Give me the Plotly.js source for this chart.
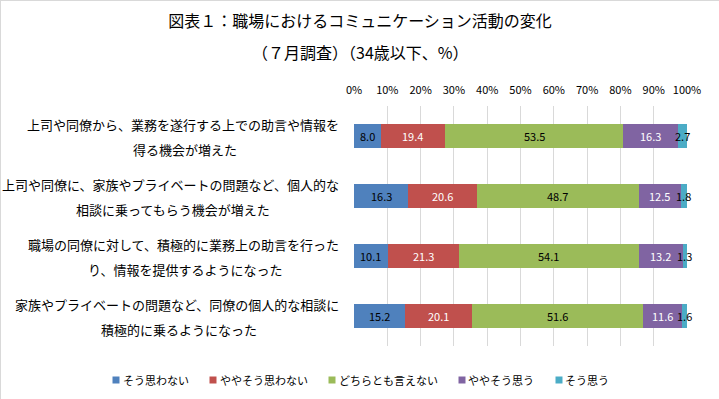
<!DOCTYPE html>
<html><head><meta charset="utf-8">
<script src="https://cdn.plot.ly/plotly-3.0.1.min.js"></script>
<style>html,body{margin:0;padding:0;background:#fff}#c{width:717px;height:397px;border:1px solid #d9d9d9}</style>
</head><body><div id="c"></div>
<script>
const titleLines = ["図表１：職場におけるコミュニケーション活動の変化", "（７月調査）（34歳以下、%）"];
const categories = [
  "上司や同僚から、業務を遂行する上での助言や情報を<br>得る機会が増えた",
  "上司や同僚に、家族やプライベートの問題など、個人的な<br>相談に乗ってもらう機会が増えた",
  "職場の同僚に対して、積極的に業務上の助言を行った<br>り、情報を提供するようになった",
  "家族やプライベートの問題など、同僚の個人的な相談に<br>積極的に乗るようになった"
];
const seriesNames = ["そう思わない","ややそう思わない","どちらとも言えない","ややそう思う","そう思う"];
const s1 = [8.0, 16.3, 10.1, 15.2];
const s2 = [19.4, 20.6, 21.3, 20.1];
const s3 = [53.5, 48.7, 54.1, 51.6];
const s4 = [16.3, 12.5, 13.2, 11.6];
const s5 = [2.7, 1.8, 1.3, 1.6];
const colors = ["#4F81BD","#C0504D","#9BBB59","#8064A2","#4BACC6"];
const labelColors = ["#000","#fff","#000","#fff","#000"];
const series = [s1,s2,s3,s4,s5];
const fontName = "'Noto Sans CJK JP', 'Noto Sans', sans-serif";

const W = 719, H = 399, ML = 353, MR = 33, MT = 105, MB = 54;
const PW = W - ML - MR, PH = H - MT - MB;
const px2x = p => (p - ML) / PW;
const py2y = p => (H - MB - p) / PH;

const ctx = document.createElement('canvas').getContext('2d');
function textW(t, size){ ctx.font = size + "px " + fontName; return ctx.measureText(t).width; }

const traces = series.map((vals,i)=>({
  type:'bar', orientation:'h', name:seriesNames[i], x:vals, y:categories,
  marker:{color:colors[i]}, hoverinfo:'x+name', showlegend:false
}));

const annotations = [];
const shapes = [];
const cum = categories.map(()=>0);
series.forEach((vals,i)=>{
  vals.forEach((v,j)=>{
    annotations.push({x:cum[j]+v/2, y:categories[j], xref:'x', yref:'y', text:v.toFixed(1),
      showarrow:false, font:{family:fontName,size:11,color:labelColors[i]}});
    cum[j]+=v;
  });
});
// category labels: two lines, right edge at 340px, second line centred under the first
const labelSize = 13, labelRight = 340;
categories.forEach(c=>{
  const lines = c.split('<br>');
  const w1 = textW(lines[0], labelSize);
  annotations.push({x:px2x(labelRight), xref:'paper', xanchor:'right', y:c, yref:'y', yshift:12, text:lines[0],
    showarrow:false, font:{family:fontName,size:labelSize,color:'#000'}});
  annotations.push({x:px2x(labelRight - w1/2), xref:'paper', xanchor:'center', y:c, yref:'y', yshift:-13, text:lines[1],
    showarrow:false, font:{family:fontName,size:labelSize,color:'#000'}});
});
annotations.push({x:px2x(359), xref:'paper', xanchor:'center', y:py2y(51), yref:'paper', yanchor:'middle',
  text:titleLines[1], showarrow:false, font:{family:fontName,size:16,color:'#000'}});

// legend: small square + name, centred under the chart
const legSize = 11, sq = 7, sqGap = 3, itemGap = 21, legY = 379, legCenter = 360;
const widths = seriesNames.map(n => sq + sqGap + textW(n, legSize));
const total = widths.reduce((a,b)=>a+b,0) + itemGap*(seriesNames.length-1);
let lx = legCenter - total/2;
seriesNames.forEach((n,i)=>{
  shapes.push({type:'rect', xref:'paper', yref:'paper', x0:px2x(lx), x1:px2x(lx+sq), y0:py2y(legY-sq/2), y1:py2y(legY+sq/2),
    fillcolor:colors[i], line:{width:0}});
  annotations.push({x:px2x(lx+sq+sqGap), xref:'paper', xanchor:'left', y:py2y(legY), yref:'paper', yanchor:'middle',
    text:n, showarrow:false, xshift:-2, font:{family:fontName,size:legSize,color:'#000'}});
  lx += widths[i] + itemGap;
});

const layout = {
  width:W, height:H, barmode:'stack', bargap:0.59,
  margin:{l:ML,r:MR,t:MT,b:MB},
  paper_bgcolor:'#fff', plot_bgcolor:'#fff',
  title:{text:titleLines[0], x:359/W, xref:'container', xanchor:'center', y:1-20/H, yref:'container', yanchor:'middle',
    font:{family:fontName,size:16,color:'#000'}},
  font:{family:fontName},
  xaxis:{range:[0,100], dtick:10, ticksuffix:'%', side:'top', showgrid:true, gridcolor:'#d9d9d9', zeroline:false,
    tickfont:{family:fontName,size:11,color:'#000'}, showline:false, fixedrange:true, ticklabelstandoff:9},
  yaxis:{autorange:'reversed', showticklabels:false, showgrid:false, zeroline:false, showline:false},
  annotations:annotations,
  shapes:shapes,
  showlegend:false
};
Plotly.newPlot('c', traces, layout, {displayModeBar:false, staticPlot:true});
</script></body></html>
